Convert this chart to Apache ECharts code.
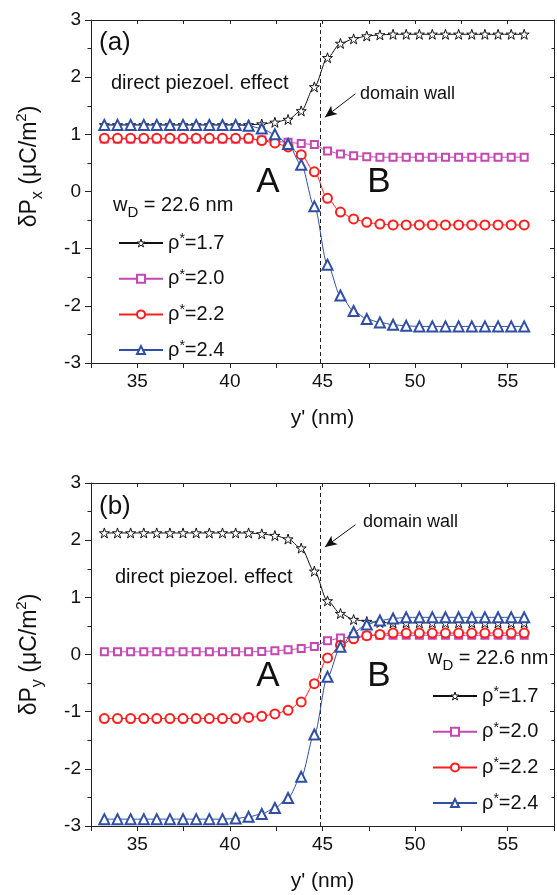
<!DOCTYPE html>
<html>
<head>
<meta charset="utf-8">
<style>
  html, body { margin: 0; padding: 0; background: #fff; }
  #chart { width: 557px; height: 895px; }
</style>
<script src="https://cdn.jsdelivr.net/npm/echarts@6/dist/echarts.min.js"></script>
</head>
<body>
<div id="chart"></div>
<script>
// y' positions (nm), shared by both panels
var yPos = [33.22, 33.93, 34.64, 35.35, 36.05, 36.76, 37.47, 38.18, 38.89, 39.60, 40.31,
  41.01, 41.72, 42.43, 43.14, 43.85, 44.56, 45.27, 45.97, 46.68, 47.39, 48.10, 48.81,
  49.52, 50.23, 50.93, 51.64, 52.35, 53.06, 53.77, 54.48, 55.19, 55.89];

var seriesNames = ['ρ*=1.7', 'ρ*=2.0', 'ρ*=2.2', 'ρ*=2.4'];

// panel (a): dPx
var dPx17 = [1.165, 1.165, 1.165, 1.165, 1.165, 1.165, 1.165, 1.165, 1.165, 1.165, 1.165, 1.165,
  1.18, 1.21, 1.26, 1.41, 1.83, 2.34, 2.59, 2.67, 2.72, 2.74,
  2.75, 2.75, 2.75, 2.75, 2.75, 2.75, 2.75, 2.75, 2.75, 2.75, 2.75];
var dPx20 = [0.92, 0.92, 0.92, 0.92, 0.92, 0.92, 0.92, 0.92, 0.92, 0.92, 0.92, 0.92,
  0.90, 0.88, 0.86, 0.84, 0.82, 0.71, 0.655, 0.625, 0.61,
  0.60, 0.60, 0.60, 0.60, 0.60, 0.60, 0.60, 0.60, 0.60, 0.60, 0.60, 0.60];
var dPx22 = [0.93, 0.93, 0.93, 0.93, 0.93, 0.93, 0.93, 0.93, 0.93, 0.93, 0.93, 0.93,
  0.89, 0.85, 0.78, 0.645, 0.345, -0.12, -0.36, -0.48, -0.54, -0.57,
  -0.585, -0.585, -0.585, -0.585, -0.585, -0.585, -0.585, -0.585, -0.585, -0.585, -0.585];
var dPx24 = [1.165, 1.165, 1.165, 1.165, 1.165, 1.165, 1.165, 1.165, 1.165, 1.165, 1.165,
  1.15, 1.10, 1.00, 0.83, 0.47, -0.26, -1.28, -1.82, -2.09, -2.23, -2.29, -2.33, -2.35,
  -2.36, -2.36, -2.36, -2.36, -2.36, -2.36, -2.36, -2.36, -2.36];

// panel (b): dPy
var dPy17 = [2.126, 2.126, 2.126, 2.126, 2.126, 2.126, 2.126, 2.126, 2.126, 2.126, 2.126, 2.126,
  2.11, 2.08, 2.02, 1.86, 1.456, 0.938, 0.716, 0.612, 0.577, 0.56,
  0.553, 0.553, 0.553, 0.553, 0.553, 0.553, 0.553, 0.553, 0.553, 0.553, 0.553];
var dPy20 = [0.047, 0.047, 0.047, 0.047, 0.047, 0.047, 0.047, 0.047, 0.047, 0.047, 0.047, 0.047,
  0.052, 0.064, 0.082, 0.105, 0.14, 0.24, 0.29, 0.315, 0.33,
  0.335, 0.335, 0.335, 0.335, 0.335, 0.335, 0.335, 0.335, 0.335, 0.335, 0.335, 0.335];
var dPy22 = [-1.12, -1.12, -1.12, -1.12, -1.12, -1.12, -1.12, -1.12, -1.12, -1.12, -1.12,
  -1.10, -1.08, -1.04, -0.975, -0.83, -0.51, -0.06, 0.163, 0.275, 0.33, 0.35,
  0.375, 0.375, 0.375, 0.375, 0.375, 0.375, 0.375, 0.375, 0.375, 0.375, 0.375];
var dPy24 = [-2.88, -2.88, -2.88, -2.88, -2.88, -2.88, -2.88, -2.88, -2.88, -2.88,
  -2.87, -2.84, -2.79, -2.685, -2.51, -2.14, -1.40, -0.39, 0.134, 0.39, 0.524, 0.594, 0.629,
  0.65, 0.65, 0.65, 0.65, 0.65, 0.65, 0.65, 0.65, 0.65, 0.65];

var xLabelValues = [35, 40, 45, 50, 55];
var wallPos = 44.9;
// arrow to the domain wall, in data units [from, to]
var arrowA = [[46.78, 1.71], [45.13, 1.30]];
var arrowB = [[46.78, 2.27], [45.13, 1.88]];

(function() {
  var FONT = '"Liberation Sans", Arial, Helvetica, sans-serif';
  var ink = '#111';
  var axisColor = '#222';
  var colors = ['#111111', '#c447b2', '#ff1e1e', '#2f4ea6'];
  var starPath = 'path://M50,2 L61.8,37.6 L99,37.6 L69,59.6 L80.3,95 L50,73.2 L19.7,95 L31,59.6 L1,37.6 L38.2,37.6 Z';
  var symbols = [starPath, 'emptyRect', 'emptyCircle', 'emptyTriangle'];
  var symbolSizes = [10, 7, 9, 10];

  var chart = echarts.init(document.getElementById('chart'), null, { renderer: 'canvas' });

  // star is a filled path, so paint it white; the empty* symbols take the colour as stroke
  function markStyle(k) {
    return { color: k === 0 ? '#fff' : colors[k], borderColor: colors[k], borderWidth: 1 };
  }

  function xAxes(g) {
    var common = {
      type: 'value', gridIndex: g, min: 32.5, max: 57.5, interval: 2.5,
      splitLine: { show: false }
    };
    return [
      Object.assign({}, common, {
        position: 'bottom',
        name: "y' (nm)", nameLocation: 'middle', nameGap: 45,
        nameTextStyle: { fontFamily: FONT, fontSize: 21, color: ink },
        axisLine: { onZero: false, lineStyle: { color: axisColor, width: 1 } },
        axisTick: { length: 5, lineStyle: { color: axisColor } },
        axisLabel: {
          margin: 9, fontFamily: FONT, fontSize: 19, color: ink,
          formatter: function(v) { return xLabelValues.indexOf(v) >= 0 ? String(v) : ''; }
        }
      }),
      Object.assign({}, common, {
        position: 'top',
        axisLine: { onZero: false, lineStyle: { color: axisColor, width: 1 } },
        axisTick: { inside: true, length: 4, lineStyle: { color: axisColor } },
        axisLabel: { show: false }
      })
    ];
  }

  function yAxes(g, name, pad) {
    var common = {
      type: 'value', gridIndex: g, min: -3, max: 3, interval: 1,
      splitLine: { show: false }
    };
    return [
      Object.assign({}, common, {
        position: 'left',
        name: name, nameLocation: 'middle', nameGap: 45,
        nameTextStyle: {
          fontFamily: FONT, color: ink, padding: pad,
          rich: {
            m: { fontFamily: FONT, fontSize: 23, lineHeight: 32, color: ink },
            sb: { fontFamily: FONT, fontSize: 16, lineHeight: 32, verticalAlign: 'bottom', color: ink },
            sp: { fontFamily: FONT, fontSize: 15, lineHeight: 15, verticalAlign: 'top', color: ink }
          }
        },
        axisLine: { onZero: false, lineStyle: { color: axisColor, width: 1 } },
        axisTick: { length: 6, lineStyle: { color: axisColor } },
        minorTick: { show: true, splitNumber: 2, length: 3.5, lineStyle: { color: axisColor } },
        axisLabel: { margin: 10, fontFamily: FONT, fontSize: 19, color: ink }
      }),
      Object.assign({}, common, {
        position: 'right',
        axisLine: { onZero: false, lineStyle: { color: axisColor, width: 1 } },
        axisTick: { inside: true, length: 4, lineStyle: { color: axisColor } },
        minorTick: { show: true, splitNumber: 2, length: 2.5, lineStyle: { color: axisColor } },
        axisLabel: { show: false }
      })
    ];
  }

  function wallMarks(arrow) {
    return {
      silent: true, symbol: 'none', animation: false,
      label: { show: false },
      lineStyle: { color: '#222', width: 1, type: [4, 3] },
      data: [
        { xAxis: wallPos },
        [
          { coord: arrow[0], symbol: 'none', lineStyle: { type: 'solid', color: '#111' } },
          { coord: arrow[1], symbol: 'arrow', symbolSize: [8, 12], lineStyle: { type: 'solid', color: '#111' } }
        ]
      ]
    };
  }

  function makeSeries(g, k, values, arrow) {
    var s = {
      name: seriesNames[k], type: 'line',
      xAxisIndex: g * 2, yAxisIndex: g * 2,
      data: yPos.map(function(x, i) { return [x, values[i]]; }),
      symbol: symbols[k], symbolSize: symbolSizes[k],
      smooth: 0.3, smoothMonotone: 'x',
      lineStyle: { color: colors[k], width: 1 },
      itemStyle: markStyle(k),
      z: 2 + k
    };
    if (arrow) s.markLine = wallMarks(arrow);
    return s;
  }

  function legendFor(left, top) {
    return {
      orient: 'vertical', left: left, top: top,
      itemWidth: 44, itemHeight: 10, itemGap: 14.7,
      selectedMode: false,
      data: seriesNames.map(function(n, k) {
        return { name: n, itemStyle: markStyle(k) };
      }),
      formatter: function(name) {
        var parts = name.split('*');
        return '{r|' + parts[0] + '}{s|*}{r|' + parts[1] + '}';
      },
      textStyle: {
        fontFamily: FONT, color: ink,
        rich: {
          r: { fontFamily: FONT, fontSize: 20, lineHeight: 22, color: ink },
          s: { fontFamily: FONT, fontSize: 14, lineHeight: 14, verticalAlign: 'top', color: ink }
        }
      }
    };
  }

  function txt(x, y, text, size, align) {
    return {
      type: 'text', x: x, y: y, silent: true,
      style: {
        text: text, fill: ink, fontFamily: FONT, fontSize: size,
        align: align || 'left', verticalAlign: 'middle'
      }
    };
  }

  function wdText(x, y) {
    return {
      type: 'text', x: x, y: y, silent: true,
      style: {
        text: '{m|w}{d|D}{m| = 22.6 nm}',
        fill: ink, fontFamily: FONT, fontSize: 20,
        align: 'left', verticalAlign: 'middle',
        rich: {
          m: { fontFamily: FONT, fontSize: 20, lineHeight: 30, fill: ink },
          d: { fontFamily: FONT, fontSize: 15, lineHeight: 30, verticalAlign: 'bottom', fill: ink }
        }
      }
    };
  }

  var series = [
    makeSeries(0, 0, dPx17, arrowA),
    makeSeries(0, 1, dPx20),
    makeSeries(0, 2, dPx22),
    makeSeries(0, 3, dPx24),
    makeSeries(1, 0, dPy17, arrowB),
    makeSeries(1, 1, dPy20),
    makeSeries(1, 2, dPy22),
    makeSeries(1, 3, dPy24)
  ];

  chart.setOption({
    animation: false,
    backgroundColor: '#fff',
    grid: [
      { left: 91, top: 20, width: 465, height: 343 },
      { left: 91, top: 483, width: 465, height: 343 }
    ],
    xAxis: xAxes(0).concat(xAxes(1)),
    yAxis: yAxes(0, '{m|δP}{sb|x}{m| (μC/m}{sp|2}{m|)}', [0, 0, 0, 50])
      .concat(yAxes(1, '{m|δP}{sb|y}{m| (μC/m}{sp|2}{m|)}', 0)),
    legend: [legendFor(113, 227), legendFor(427, 680)],
    series: series,
    graphic: [
      txt(99, 43, '(a)', 26),
      txt(111, 83, 'direct piezoel. effect', 20),
      txt(360, 94, 'domain wall', 18),
      txt(268, 182, 'A', 35, 'center'),
      txt(379, 182, 'B', 35, 'center'),
      wdText(113, 205),
      txt(99, 507, '(b)', 26),
      txt(115, 577, 'direct piezoel. effect', 20),
      txt(363, 522, 'domain wall', 18),
      txt(268, 676, 'A', 35, 'center'),
      txt(379, 676, 'B', 35, 'center'),
      wdText(428, 658)
    ]
  });
  window.addEventListener('resize', function() { chart.resize(); });
})();
</script>
</body>
</html>
